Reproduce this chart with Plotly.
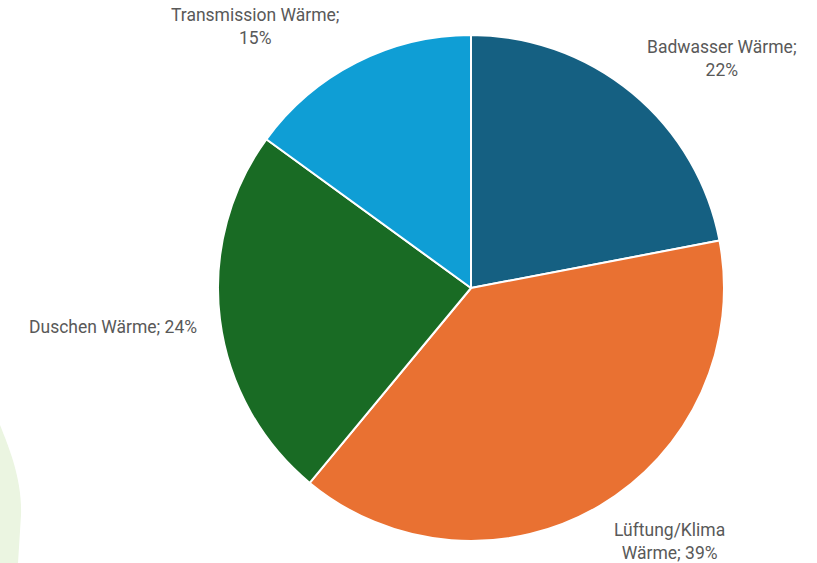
import plotly.graph_objects as go

W, H = 817, 563

categories = ["Badwasser Wärme", "Lüftung/Klima Wärme", "Duschen Wärme", "Transmission Wärme"]
values = [22, 39, 24, 15]
label_texts = ["Badwasser Wärme;<br>22%", "Lüftung/Klima<br>Wärme; 39%",
               "Duschen Wärme; 24%", "Transmission Wärme;<br>15%"]
colors = ["#156082", "#E97132", "#196B24", "#0F9ED5"]

# label layout (pixel anchor positions, anchors)
label_pos = [(645, 82, "left", "bottom"), (612, 518, "left", "top"),
             (199, 327, "right", "middle"), (342, 50, "right", "bottom")]

cx, cy, R = 471, 288, 253

fig = go.Figure(go.Pie(
    labels=categories, values=values, sort=False, direction="clockwise", rotation=0,
    marker=dict(colors=colors, line=dict(color="white", width=2)),
    textinfo="none", hoverinfo="label+percent", showlegend=False,
    domain=dict(x=[(cx - R) / W, (cx + R) / W], y=[(H - cy - R) / H, (H - cy + R) / H]),
))

for t, (px, py, xa, ya) in zip(label_texts, label_pos):
    fig.add_annotation(x=px / W, y=1 - py / H, xref="paper", yref="paper", text=t,
                       showarrow=False, xanchor=xa, yanchor=ya, align="center",
                       font=dict(family="Roboto, sans-serif", size=17.5, color="#595959"))

fig.add_shape(type="path", xref="paper", yref="paper",
              path=f"M 0 {1-425/H} C {10/W} {1-450/H}, {22/W} {1-480/H}, {21/W} {1-515/H} "
                   f"L {18/W} 0 L 0 0 Z",
              fillcolor="#EBF5E1", line=dict(width=0), layer="below")

fig.update_layout(width=W, height=H, margin=dict(l=0, r=0, t=0, b=0),
                  paper_bgcolor="white", plot_bgcolor="white")

fig.write_html("out.html")
